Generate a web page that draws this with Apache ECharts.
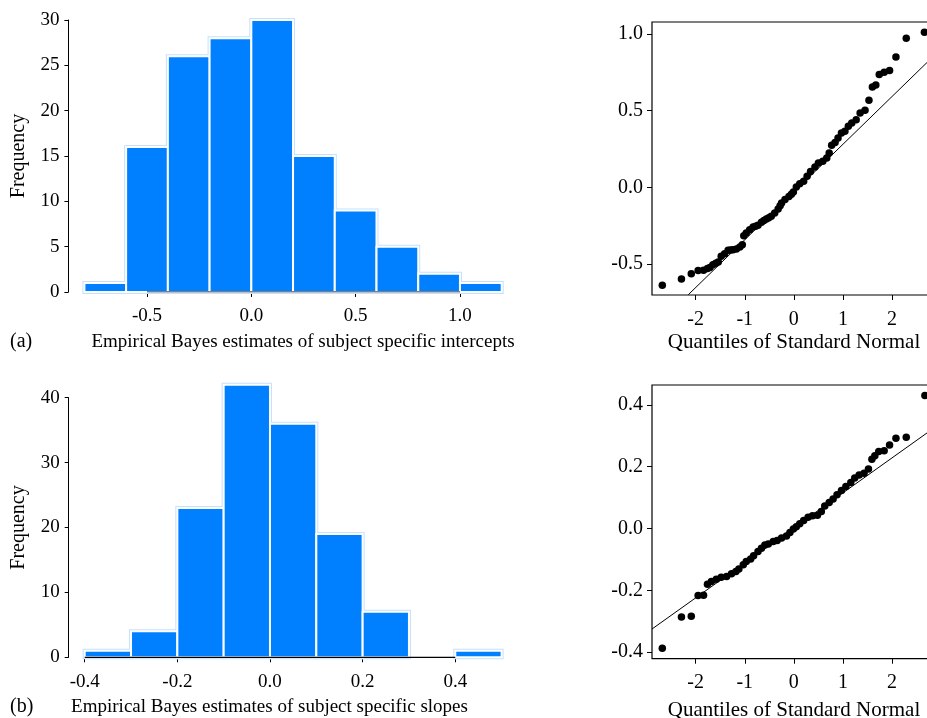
<!DOCTYPE html>
<html>
<head>
<meta charset="utf-8">
<script src="https://cdn.jsdelivr.net/npm/echarts@6/dist/echarts.min.js"></script>
<style>
  html, body { margin: 0; padding: 0; background: #fff; overflow: hidden; }
  /* a bit wider than the window: the QQ boxes run past the right edge */
  #chart { width: 944px; height: 718px; }
</style>
</head>
<body>
<div id="chart"></div>
<script>
// histogram bins (breaks + counts)
const interceptBreaks = [-0.8, -0.6, -0.4, -0.2, 0.0, 0.2, 0.4, 0.6, 0.8, 1.0, 1.2];
const interceptCounts = [1, 16, 26, 28, 30, 15, 9, 5, 2, 1];
const interceptTicks = [-0.5, 0.0, 0.5, 1.0];

const slopeBreaks = [-0.4, -0.3, -0.2, -0.1, 0.0, 0.1, 0.2, 0.3, 0.4, 0.5];
const slopeCounts = [1, 4, 23, 42, 36, 19, 7, 0, 1];
const slopeTicks = [-0.4, -0.2, 0.0, 0.2, 0.4];

// normal QQ plots (theoretical quantile, estimate)
const qqTicks = [-2, -1, 0, 1, 2];
const interceptQ = [-2.68, -2.29, -2.09, -1.95, -1.84, -1.76, -1.71, -1.65, -1.59, -1.54, -1.48, -1.41, -1.34, -1.29, -1.24, -1.17, -1.10, -1.05, -1.02, -0.97, -0.90, -0.83, -0.78, -0.73, -0.66, -0.61, -0.56, -0.51, -0.46, -0.39, -0.32, -0.28, -0.25, -0.18, -0.10, -0.05, -0.01, 0.05, 0.12, 0.20, 0.27, 0.34, 0.43, 0.50, 0.59, 0.67, 0.72, 0.77, 0.84, 0.90, 0.97, 1.04, 1.11, 1.18, 1.27, 1.35, 1.45, 1.53, 1.60, 1.67, 1.74, 1.84, 1.95, 2.08, 2.29, 2.66];
const interceptEB = [-0.639, -0.598, -0.563, -0.543, -0.541, -0.530, -0.522, -0.504, -0.495, -0.487, -0.450, -0.433, -0.411, -0.409, -0.407, -0.402, -0.389, -0.374, -0.315, -0.298, -0.276, -0.259, -0.253, -0.248, -0.228, -0.217, -0.207, -0.198, -0.189, -0.167, -0.141, -0.120, -0.102, -0.080, -0.059, -0.045, -0.030, 0.002, 0.024, 0.039, 0.072, 0.104, 0.133, 0.159, 0.170, 0.191, 0.224, 0.274, 0.293, 0.322, 0.354, 0.365, 0.398, 0.420, 0.441, 0.485, 0.502, 0.567, 0.654, 0.667, 0.735, 0.750, 0.761, 0.850, 0.972, 1.011];
const interceptLine = [[-2.15, -0.70], [2.89, 0.869]];

const slopeQ = [-2.68, -2.29, -2.09, -1.95, -1.84, -1.76, -1.68, -1.58, -1.48, -1.37, -1.27, -1.18, -1.12, -1.03, -0.97, -0.88, -0.82, -0.73, -0.66, -0.59, -0.52, -0.42, -0.34, -0.25, -0.15, -0.08, -0.01, 0.05, 0.12, 0.20, 0.29, 0.38, 0.48, 0.56, 0.63, 0.72, 0.80, 0.88, 0.97, 1.06, 1.16, 1.24, 1.33, 1.43, 1.52, 1.59, 1.65, 1.73, 1.84, 1.95, 2.08, 2.29, 2.67];
const slopeEB = [-0.387, -0.286, -0.284, -0.217, -0.216, -0.180, -0.171, -0.164, -0.158, -0.155, -0.146, -0.139, -0.131, -0.117, -0.107, -0.099, -0.088, -0.074, -0.064, -0.053, -0.050, -0.042, -0.039, -0.031, -0.024, -0.013, -0.002, 0.006, 0.015, 0.026, 0.036, 0.041, 0.043, 0.055, 0.073, 0.084, 0.095, 0.109, 0.123, 0.136, 0.149, 0.163, 0.173, 0.179, 0.192, 0.224, 0.235, 0.249, 0.251, 0.270, 0.292, 0.295, 0.430];
const slopeLine = [[-2.89, -0.325], [2.89, 0.329]];

const FONT = 'Liberation Serif';
const txt = (size) => ({ fontFamily: FONT, fontSize: size, color: '#000' });
const tickStyle = { color: '#000', width: 1 };

const binData = (breaks, counts) => counts.map((c, i) => [breaks[i], breaks[i + 1], c]);
const zip = (a, b) => a.map((v, i) => [v, b[i]]);

// one rectangle per bin, from break to break, through the axes
const renderBin = (params, api) => {
  if (api.value(2) <= 0) return null;
  const p0 = api.coord([api.value(0), 0]);
  const p1 = api.coord([api.value(1), api.value(2)]);
  const shape = { x: p0[0], y: p1[1], width: p1[0] - p0[0], height: p0[1] - p1[1] };
  return {
    type: 'group',
    children: [
      { type: 'rect', z2: 0, shape, style: { fill: 'none', stroke: '#c4e1ff', lineWidth: 4 } },
      { type: 'rect', z2: 1, shape, style: { fill: '#0080ff', stroke: '#ffffff', lineWidth: 2 } }
    ]
  };
};

const histX = (idx, min, max, ticks) => ({
  type: 'value', gridIndex: idx, min, max,
  splitLine: { show: false },
  axisLine: { show: false, onZero: false },
  axisTick: { show: true, length: 5, lineStyle: tickStyle, customValues: ticks },
  axisLabel: { ...txt(19), margin: 15, customValues: ticks, formatter: v => v.toFixed(1) }
});
const histY = (idx, max, step) => ({
  type: 'value', gridIndex: idx, min: 0, max, interval: step, offset: 16,
  splitLine: { show: false },
  axisLine: { show: true, onZero: false, lineStyle: { color: '#000', width: 1 } },
  axisTick: { show: true, length: 4, lineStyle: tickStyle },
  axisLabel: { ...txt(19), margin: 9 },
  name: 'Frequency', nameLocation: 'middle', nameRotate: 90, nameGap: 40,
  nameTextStyle: txt(20)
});
const qqX = (idx, margin) => ({
  type: 'value', gridIndex: idx, min: -2.89, max: 2.89,
  splitLine: { show: false },
  axisLine: { show: false, onZero: false },
  axisTick: { show: true, length: 5, lineStyle: tickStyle, customValues: qqTicks },
  axisLabel: { ...txt(20), margin, customValues: qqTicks, formatter: v => String(v) }
});
const qqY = (idx, min, max, ticks) => ({
  type: 'value', gridIndex: idx, min, max,
  splitLine: { show: false },
  axisLine: { show: false, onZero: false },
  axisTick: { show: true, length: 5, lineStyle: tickStyle, customValues: ticks },
  axisLabel: { ...txt(20), margin: 9, customValues: ticks, formatter: v => v.toFixed(1) }
});

const label = (text, x, y, size, align) => ({
  type: 'text', x, y,
  style: { text, font: size + 'px "Liberation Serif"', fill: '#000', textAlign: align, textVerticalAlign: 'middle' }
});

const chart = echarts.init(document.getElementById('chart'));

const option = {
  animation: false,
  backgroundColor: '#fff',
  grid: [
    { left: 84.4, top: 20, width: 417.3, height: 272 },
    { left: 652, top: 22, width: 283.7, height: 273, show: true, borderColor: '#000', borderWidth: 1.2 },
    { left: 84.7, top: 397.7, width: 416.9, height: 259.6 },
    { left: 652, top: 385, width: 283.7, height: 273.7, show: true, borderColor: '#000', borderWidth: 1.2 }
  ],
  xAxis: [
    histX(0, interceptBreaks[0], interceptBreaks[interceptBreaks.length - 1], interceptTicks),
    qqX(1, 15),
    histX(2, slopeBreaks[0], slopeBreaks[slopeBreaks.length - 1], slopeTicks),
    qqX(3, 14)
  ],
  yAxis: [
    histY(0, 30, 5),
    qqY(1, -0.702, 1.078, [-0.5, 0.0, 0.5, 1.0]),
    histY(2, 40, 10),
    qqY(3, -0.421, 0.464, [-0.4, -0.2, 0.0, 0.2, 0.4])
  ],
  series: [
    {
      type: 'custom', xAxisIndex: 0, yAxisIndex: 0, clip: false,
      renderItem: renderBin, encode: { x: [0, 1], y: 2 },
      data: binData(interceptBreaks, interceptCounts)
    },
    {
      // R-style x axis line, only from first to last tick
      type: 'line', xAxisIndex: 0, yAxisIndex: 0, symbol: 'none', silent: true, z: 5,
      lineStyle: { color: '#000', width: 1.2 },
      data: [[interceptTicks[0], 0], [interceptTicks[interceptTicks.length - 1], 0]]
    },
    {
      type: 'line', xAxisIndex: 1, yAxisIndex: 1, symbol: 'none', silent: true,
      lineStyle: { color: '#000', width: 1 }, data: interceptLine
    },
    {
      type: 'scatter', xAxisIndex: 1, yAxisIndex: 1, symbolSize: 7.5,
      itemStyle: { color: '#000', opacity: 1 }, data: zip(interceptQ, interceptEB)
    },
    {
      type: 'custom', xAxisIndex: 2, yAxisIndex: 2, clip: false,
      renderItem: renderBin, encode: { x: [0, 1], y: 2 },
      data: binData(slopeBreaks, slopeCounts)
    },
    {
      type: 'line', xAxisIndex: 2, yAxisIndex: 2, symbol: 'none', silent: true, z: 5,
      lineStyle: { color: '#000', width: 1.2 },
      data: [[slopeTicks[0], 0], [slopeTicks[slopeTicks.length - 1], 0]]
    },
    {
      type: 'line', xAxisIndex: 3, yAxisIndex: 3, symbol: 'none', silent: true,
      lineStyle: { color: '#000', width: 1 }, data: slopeLine
    },
    {
      type: 'scatter', xAxisIndex: 3, yAxisIndex: 3, symbolSize: 7.5,
      itemStyle: { color: '#000', opacity: 1 }, data: zip(slopeQ, slopeEB)
    }
  ],
  graphic: [
    label('(a)', 10, 342, 20, 'left'),
    label('Empirical Bayes estimates of subject specific intercepts', 303, 342, 19, 'center'),
    label('Quantiles of Standard Normal', 794, 342, 21, 'center'),
    label('(b)', 10, 707, 20, 'left'),
    label('Empirical Bayes estimates of subject specific slopes', 269.5, 707, 19, 'center'),
    label('Quantiles of Standard Normal', 794, 710, 21, 'center')
  ]
};

chart.setOption(option);
</script>
</body>
</html>
